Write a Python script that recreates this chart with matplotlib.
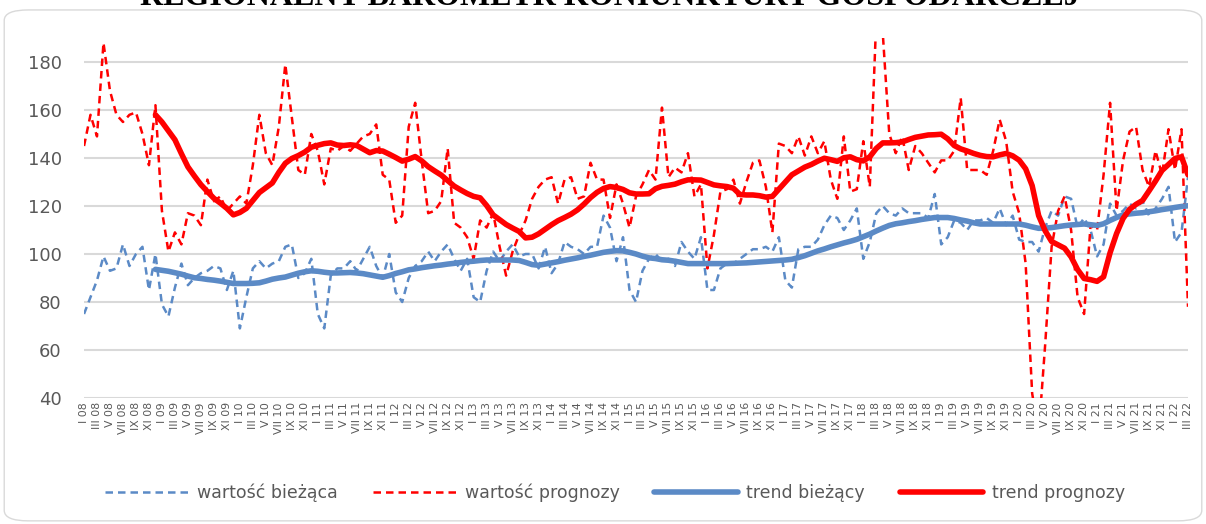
import numpy as np
import matplotlib
matplotlib.use("Agg")
import matplotlib.pyplot as plt
from matplotlib.patches import FancyBboxPatch

# months I 08 .. III 22
months = ["I", "II", "III", "IV", "V", "VI", "VII", "VIII", "IX", "X", "XI", "XII"]
years = list(range(8, 23))

# wartość bieżąca (current value)
biezaca = [75, 82, 89, 99, 93, 94, 104, 95, 100, 103, 85, 100, 79, 74, 86, 96, 87, 90, 92, 93,
           95, 94, 85, 93, 69, 82, 94, 97, 94, 96, 97, 103, 104, 90, 92, 98, 75, 69, 91, 94,
           94, 97, 93, 98, 103, 95, 90, 100, 84, 80, 90, 95, 97, 101, 97, 101, 104, 98, 93, 98,
           82, 80, 93, 101, 97, 101, 104, 99, 100, 100, 94, 103, 92, 96, 105, 103, 102, 100, 103, 103,
           116, 111, 97, 107, 85, 80, 93, 98, 100, 97, 98, 95, 105, 101, 98, 107, 85, 85, 94, 96,
           96, 98, 100, 102, 102, 103, 101, 107, 89, 86, 102, 103, 103, 106, 112, 116, 115, 110, 114, 119,
           98, 105, 117, 120, 117, 116, 119, 117, 117, 117, 115, 125, 104, 107, 114, 113, 110, 114, 114, 115,
           113, 119, 112, 116, 106, 105, 105, 101, 111, 118, 116, 124, 123, 111, 115, 110, 99, 104, 121, 116,
           118, 121, 119, 122, 116, 119, 123, 128, 105, 109, 132]

# wartość prognozy (forecast value)
prognoza = [145, 158, 149, 188, 168, 158, 155, 158, 159, 150, 137, 162, 118, 101, 109, 104, 117, 116, 112, 131,
            122, 124, 118, 121, 124, 121, 137, 158, 142, 137, 153, 179, 157, 135, 133, 150, 143, 129, 144, 143,
            145, 143, 146, 149, 150, 154, 133, 131, 113, 116, 153, 163, 139, 117, 118, 122, 144, 113, 111, 107,
            98, 114, 111, 117, 103, 91, 101, 108, 114, 123, 128, 131, 132, 121, 131, 132, 123, 124, 138, 131,
            131, 115, 129, 121, 111, 124, 129, 135, 131, 161, 132, 136, 134, 142, 124, 129, 94, 108, 126, 127,
            131, 121, 130, 138, 139, 128, 109, 146, 145, 142, 149, 141, 149, 142, 147, 131, 123, 149, 126, 127,
            147, 128, 198, 192, 150, 142, 149, 135, 145, 142, 138, 134, 139, 139, 143, 165, 135, 135, 135, 133,
            143, 156, 147, 126, 117, 96, 42, 25, 62, 103, 118, 124, 110, 82, 75, 112, 110, 133, 163, 118,
            139, 151, 153, 135, 128, 143, 133, 152, 135, 152, 78]

# trend bieżący (from XII 08)
trend_biezacy = [93.6, 93.2, 92.8, 92.2, 91.6, 90.8, 90.1, 89.8, 89.4, 89.1, 88.7, 88.2, 87.7, 87.7, 87.7,
                 87.8, 88.0, 88.7, 89.5, 90.0, 90.4, 91.2, 92.0, 92.6, 93.0, 92.8, 92.4, 92.1, 92.1, 92.2,
                 92.3, 92.1, 91.8, 91.3, 90.8, 90.3, 91.0, 91.9, 92.6, 93.4, 93.8, 94.3, 94.7, 95.1, 95.4,
                 95.8, 96.1, 96.5, 96.8, 97.0, 97.3, 97.5, 97.5, 97.5, 97.5, 97.5, 97.3, 96.5, 95.6, 95.3,
                 95.8, 96.3, 96.8, 97.4, 97.9, 98.4, 99.0, 99.5, 100.1, 100.7, 101.1, 101.4, 101.3, 100.7, 100.0,
                 99.1, 98.4, 98.1, 97.6, 97.4, 97.0, 96.5, 96.0, 96.0, 96.0, 96.0, 96.0, 96.0, 96.0, 96.1,
                 96.2, 96.3, 96.5, 96.7, 96.9, 97.1, 97.3, 97.5, 97.8, 98.5, 99.3, 100.3, 101.3, 102.1, 103.0,
                 103.8, 104.6, 105.3, 106.1, 107.2, 108.3, 109.6, 110.8, 111.9, 112.6, 113.0, 113.5, 113.9, 114.4, 114.8,
                 115.2, 115.2, 115.2, 114.8, 114.2, 113.7, 113.0, 112.5, 112.5, 112.5, 112.5, 112.5, 112.5, 112.5, 112.0,
                 111.3, 110.7, 110.8, 111.0, 111.4, 111.8, 112.1, 112.3, 112.5, 112.2, 111.9, 112.6, 114.0, 115.2, 116.3,
                 116.7, 117.0, 117.2, 117.6, 118.0, 118.5, 118.9, 119.4, 119.8, 120.1]

# trend prognozy (from XII 08)
trend_prognozy = [158, 155, 151.3, 147.6, 141.8, 136.3, 132.5, 128.9, 126, 123.2, 121.2, 119, 116.3, 117.3, 119,
                  122.3, 125.6, 127.6, 129.6, 134, 137.8, 139.8, 141, 142.5, 144.5, 145.3, 146, 146.3, 145.4, 145.2,
                  145.5, 145.2, 143.7, 142.2, 143.1, 142.9, 141.6, 140.2, 138.7, 139.5, 140.6, 138.8, 136.4, 134.6, 132.9,
                  130.6, 128.3, 126.7, 125.2, 124, 123.4, 120.2, 116.3, 114.3, 112.3, 110.8, 109.4, 106.7, 107, 108.4,
                  110.3, 112.2, 113.9, 115.2, 116.6, 118.4, 120.8, 123.5, 125.7, 127.3, 128.1, 127.7, 126.9, 125.5, 125,
                  125, 125.1, 127.2, 128.2, 128.6, 129.1, 130.1, 130.9, 130.9, 130.8, 129.8, 128.8, 128.4, 128.1, 127.4,
                  124.8, 124.6, 124.6, 124.3, 123.7, 124, 127, 130, 133, 134.6, 136.2, 137.3, 138.7, 139.9, 139.3,
                  138.6, 140.1, 140.5, 139.3, 138.8, 140.5, 144, 146.3, 146.3, 146.4, 146.7, 147.7, 148.6, 149.1, 149.6,
                  149.7, 149.9, 148, 145.2, 143.8, 142.9, 141.9, 141.1, 140.6, 140.5, 141.3, 141.9, 140.9, 139.1, 135.5,
                  128.5, 116, 109.7, 105.2, 103.8, 102.4, 98.8, 93.5, 89.8, 89.3, 88.6, 90.5, 100.5, 108.5, 114.8,
                  118.6, 120.7, 122.3, 126.3, 130.4, 134.8, 137.3, 139.8, 140.5, 133]

labels = [f"{m} {y:02d}" for y in years for m in months][:len(biezaca)]
x = np.arange(len(biezaca))
x_trend = x[len(x) - len(trend_biezacy):]

blue = "#5B8AC6"
red = "#FF0000"
grey = "#595959"

fig = plt.figure(figsize=(12.06, 5.24), dpi=100)
ax = fig.add_axes([84 / 1206, 1 - 398 / 524, (1188 - 84) / 1206, (398 - 38) / 524])

ax.plot(x, biezaca, color=blue, lw=1.8, dashes=(3, 2), label="wartość bieżąca")
ax.plot(x, prognoza, color=red, lw=1.8, dashes=(3, 2), label="wartość prognozy")
ax.plot(x_trend, trend_biezacy, color=blue, lw=4, solid_capstyle="round", label="trend bieżący")
ax.plot(x_trend, trend_prognozy, color=red, lw=4, solid_capstyle="round", label="trend prognozy")

ax.set_xlim(0, len(x) - 1)
ax.set_ylim(40, 190)
ax.set_yticks(range(40, 181, 20))
ax.set_xticks(x[::2])
ax.set_xticklabels(labels[::2], rotation=90, fontsize=7.8, color=grey)
ax.tick_params(axis="y", labelsize=13, colors=grey, length=0, pad=16)
ax.tick_params(axis="x", length=0, pad=3)
ax.grid(axis="y", color="#D9D9D9", lw=1.5)
ax.set_axisbelow(True)
for s in ax.spines.values():
    s.set_visible(False)

fig.legend(loc="lower center", bbox_to_anchor=(0.51, 0.012), ncol=4, frameon=False,
           fontsize=12.5, handlelength=4.8, handletextpad=0.5, columnspacing=2.0, labelcolor=grey)

# title sits mostly above the canvas, as in the original export
fig.text(0.506, 1 - 5 / 524, "REGIONALNY BAROMETR KONIUNKTURY GOSPODARCZEJ", ha="center",
         va="baseline", fontfamily="Liberation Serif", fontweight="bold", fontsize=23)

frame = FancyBboxPatch((0.0035, 0.006), 0.993, 0.975, boxstyle="round,pad=0,rounding_size=0.02",
                       transform=fig.transFigure, fill=False, ec="#D9D9D9", lw=1)
fig.patches.append(frame)

fig.savefig("out.png", dpi=100)
